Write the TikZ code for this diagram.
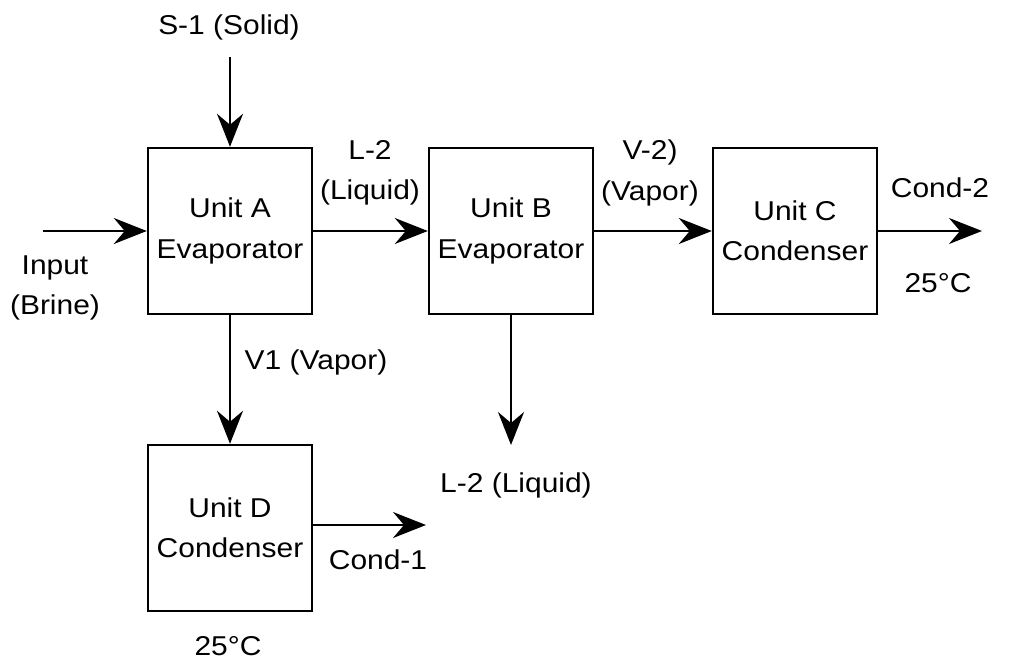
\documentclass[tikz,border=0pt]{standalone}
\usepackage{fontspec}
\setmainfont{Liberation Sans}[FakeStretch=1.1]
\usetikzlibrary{arrows.meta}

\begin{document}
\begin{tikzpicture}[
    x=0.02cm, y=-0.02cm,
    >={Stealth[length=6.6mm, width=5.2mm, inset=2.2mm]},
    every node/.style={font=\fontsize{15.5}{23}\selectfont, align=center},
    unit/.style={draw, line width=1.4pt, minimum width=3.28cm, minimum height=3.32cm},
    flow/.style={->, line width=1.1pt}
]
    \useasboundingbox (0,0) rectangle (1018,663);

    % --- Units ---
    \node[unit] (A) at (230,231) {Unit A\\Evaporator};
    \node[unit] (B) at (511,231) {Unit B\\Evaporator};
    \node[unit] (C) at (795,231) {Unit C\\Condenser};
    \node[unit] (D) at (230,528) {Unit D\\Condenser};

    % --- Stream ends ---
    \coordinate (s1) at (230,57);
    \coordinate (in) at (43,231);
    \coordinate (c2) at (982,231);
    \coordinate (l2) at (511,445);
    \coordinate (c1) at (426,525);

    % --- Streams ---
    \draw[flow] (s1) -- (A.north);
    \draw[flow] (in) -- (A.west);
    \draw[flow] (A.east) -- (B.west);
    \draw[flow] (B.east) -- (C.west);
    \draw[flow] (C.east) -- (c2);
    \draw[flow] (A.south) -- (D.north);
    \draw[flow] (B.south) -- (l2);
    \draw[flow] (c1 -| D.east) -- (c1);

    % --- Labels ---
    \node (s1lab) at (229,27) {S-1 (Solid)};
    \node (inlab) at (55,288) {Input\\(Brine)};
    \node (l2lab) at (370,173) {L-2\\(Liquid)};
    \node (v2lab) at (650,173) {V-2)\\(Vapor)};
    \node (c2lab) at (940,188) {Cond-2};
    \node (c2temp) at (938,283) {25°C};
    \node (v1lab) at (316,362) {V1 (Vapor)};
    \node (l2out) at (516,485) {L-2 (Liquid)};
    \node (c1lab) at (378,560) {Cond-1};
    \node (dtemp) at (228,646) {25°C};

\end{tikzpicture}
\end{document}
